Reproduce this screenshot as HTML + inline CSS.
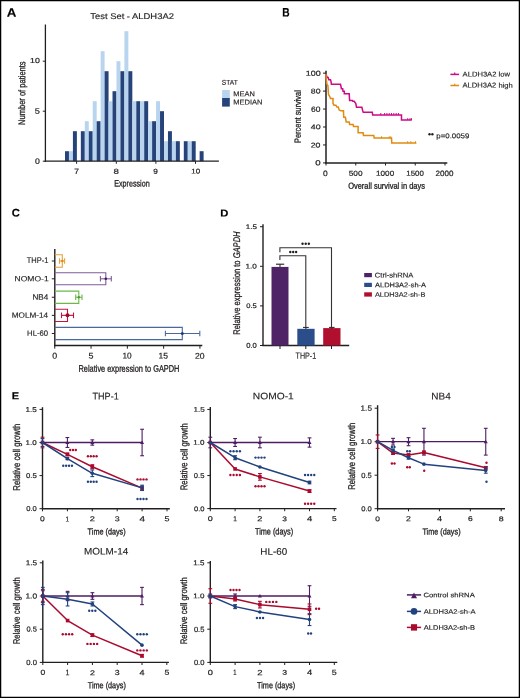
<!DOCTYPE html><html><head><meta charset="utf-8"><style>html,body{margin:0;padding:0;background:#fff;width:520px;height:698px;overflow:hidden}svg{display:block;will-change:transform}text{font-family:"Liberation Sans",sans-serif;text-rendering:geometricPrecision}</style></head><body>
<svg width="520" height="698" viewBox="0 0 520 698">
<rect x="0" y="0" width="520" height="698" fill="#fff"/>
<g id="shapes">
<rect x="65.00" y="151.20" width="3.96" height="10.00" fill="#26437a"/>
<rect x="68.96" y="151.20" width="3.96" height="10.00" fill="#b9d4ef"/>
<rect x="72.92" y="131.20" width="3.96" height="30.00" fill="#26437a"/>
<rect x="80.84" y="131.20" width="3.96" height="30.00" fill="#26437a"/>
<rect x="84.80" y="121.20" width="3.96" height="40.00" fill="#b9d4ef"/>
<rect x="88.76" y="131.20" width="3.96" height="30.00" fill="#26437a"/>
<rect x="92.72" y="101.20" width="3.96" height="60.00" fill="#b9d4ef"/>
<rect x="96.68" y="121.20" width="3.96" height="40.00" fill="#26437a"/>
<rect x="100.64" y="51.20" width="3.96" height="110.00" fill="#b9d4ef"/>
<rect x="104.60" y="71.20" width="3.96" height="90.00" fill="#26437a"/>
<rect x="108.56" y="101.20" width="3.96" height="60.00" fill="#b9d4ef"/>
<rect x="112.52" y="91.20" width="3.96" height="70.00" fill="#26437a"/>
<rect x="116.48" y="61.20" width="3.96" height="100.00" fill="#b9d4ef"/>
<rect x="120.44" y="71.20" width="3.96" height="90.00" fill="#26437a"/>
<rect x="124.40" y="31.20" width="3.96" height="130.00" fill="#b9d4ef"/>
<rect x="128.36" y="71.20" width="3.96" height="90.00" fill="#26437a"/>
<rect x="132.32" y="101.20" width="3.96" height="60.00" fill="#b9d4ef"/>
<rect x="136.28" y="101.20" width="3.96" height="60.00" fill="#26437a"/>
<rect x="140.24" y="101.20" width="3.96" height="60.00" fill="#b9d4ef"/>
<rect x="144.20" y="101.20" width="3.96" height="60.00" fill="#26437a"/>
<rect x="148.16" y="121.20" width="3.96" height="40.00" fill="#b9d4ef"/>
<rect x="152.12" y="121.20" width="3.96" height="40.00" fill="#26437a"/>
<rect x="156.08" y="101.20" width="3.96" height="60.00" fill="#b9d4ef"/>
<rect x="160.04" y="111.20" width="3.96" height="50.00" fill="#26437a"/>
<rect x="164.00" y="141.20" width="3.96" height="20.00" fill="#b9d4ef"/>
<rect x="167.96" y="131.20" width="3.96" height="30.00" fill="#26437a"/>
<rect x="171.92" y="141.20" width="3.96" height="20.00" fill="#b9d4ef"/>
<rect x="175.88" y="141.20" width="3.96" height="20.00" fill="#26437a"/>
<rect x="183.80" y="141.20" width="3.96" height="20.00" fill="#26437a"/>
<rect x="187.76" y="141.20" width="3.96" height="20.00" fill="#b9d4ef"/>
<rect x="191.72" y="141.20" width="3.96" height="20.00" fill="#26437a"/>
<rect x="199.64" y="151.20" width="3.96" height="10.00" fill="#26437a"/>
<line x1="45.40" y1="24.50" x2="45.40" y2="161.80" stroke="#231f20" stroke-width="1.3" />
<line x1="44.80" y1="161.20" x2="218.90" y2="161.20" stroke="#231f20" stroke-width="1.3" />
<line x1="42.80" y1="161.20" x2="45.40" y2="161.20" stroke="#231f20" stroke-width="1" />
<line x1="42.80" y1="111.20" x2="45.40" y2="111.20" stroke="#231f20" stroke-width="1" />
<line x1="42.80" y1="61.20" x2="45.40" y2="61.20" stroke="#231f20" stroke-width="1" />
<line x1="76.60" y1="161.20" x2="76.60" y2="163.80" stroke="#231f20" stroke-width="1" />
<line x1="116.30" y1="161.20" x2="116.30" y2="163.80" stroke="#231f20" stroke-width="1" />
<line x1="155.90" y1="161.20" x2="155.90" y2="163.80" stroke="#231f20" stroke-width="1" />
<line x1="195.50" y1="161.20" x2="195.50" y2="163.80" stroke="#231f20" stroke-width="1" />
<rect x="222.10" y="90.00" width="7.70" height="8.00" fill="#b9d4ef"/>
<rect x="222.10" y="98.00" width="7.70" height="8.60" fill="#26437a"/>
<line x1="326.00" y1="70.70" x2="326.00" y2="163.60" stroke="#231f20" stroke-width="1.5" />
<line x1="325.30" y1="162.90" x2="447.30" y2="162.90" stroke="#231f20" stroke-width="1.5" />
<line x1="323.00" y1="162.90" x2="326.00" y2="162.90" stroke="#231f20" stroke-width="1" />
<line x1="323.00" y1="144.95" x2="326.00" y2="144.95" stroke="#231f20" stroke-width="1" />
<line x1="323.00" y1="127.00" x2="326.00" y2="127.00" stroke="#231f20" stroke-width="1" />
<line x1="323.00" y1="109.05" x2="326.00" y2="109.05" stroke="#231f20" stroke-width="1" />
<line x1="323.00" y1="91.10" x2="326.00" y2="91.10" stroke="#231f20" stroke-width="1" />
<line x1="323.00" y1="73.15" x2="326.00" y2="73.15" stroke="#231f20" stroke-width="1" />
<line x1="326.00" y1="162.90" x2="326.00" y2="165.50" stroke="#231f20" stroke-width="1" />
<line x1="355.75" y1="162.90" x2="355.75" y2="165.50" stroke="#231f20" stroke-width="1" />
<line x1="385.50" y1="162.90" x2="385.50" y2="165.50" stroke="#231f20" stroke-width="1" />
<line x1="415.25" y1="162.90" x2="415.25" y2="165.50" stroke="#231f20" stroke-width="1" />
<line x1="445.00" y1="162.90" x2="445.00" y2="165.50" stroke="#231f20" stroke-width="1" />
<path d="M325.90,73.90 L327.20,77.40 L328.20,77.40 L328.80,79.70 L330.50,79.70 L331.10,81.90 L331.40,84.20 L340.50,84.20 L341.00,86.50 L341.40,88.70 L342.70,88.70 L343.00,91.30 L344.30,91.30 L344.30,93.70 L349.20,93.70 L349.60,100.40 L352.30,100.40 L352.80,101.20 L354.20,101.20 L355.80,103.50 L356.50,107.30 L361.90,107.30 L362.40,109.60 L363.10,111.90 L363.30,112.30 L372.30,112.30 L372.70,115.00 L401.50,115.00 L401.50,120.00 L411.80,120.00" stroke="#cc0a84" stroke-width="1.5" fill="none" />
<path d="M325.90,73.90 L326.30,79.70 L326.90,84.20 L327.90,85.50 L328.50,94.50 L329.80,96.50 L330.50,98.40 L333.00,98.40 L333.00,103.50 L334.00,105.20 L335.90,105.20 L336.90,107.10 L338.20,107.10 L339.20,110.00 L340.80,110.80 L343.50,110.80 L343.50,112.30 L343.80,117.30 L345.40,117.30 L346.20,121.90 L349.20,121.90 L349.60,124.60 L353.10,124.60 L353.50,126.50 L358.10,126.50 L358.10,132.70 L363.10,132.70 L363.50,135.40 L373.80,135.40 L374.20,138.10 L391.50,138.10 L391.80,143.10 L416.40,143.10" stroke="#e08a10" stroke-width="1.5" fill="none" />
<line x1="380.80" y1="114.90" x2="380.80" y2="113.00" stroke="#cc0a84" stroke-width="1" />
<line x1="384.60" y1="114.90" x2="384.60" y2="113.00" stroke="#cc0a84" stroke-width="1" />
<line x1="386.90" y1="114.90" x2="386.90" y2="113.00" stroke="#cc0a84" stroke-width="1" />
<line x1="389.20" y1="114.90" x2="389.20" y2="113.00" stroke="#cc0a84" stroke-width="1" />
<line x1="391.50" y1="114.90" x2="391.50" y2="113.00" stroke="#cc0a84" stroke-width="1" />
<line x1="393.80" y1="114.90" x2="393.80" y2="113.00" stroke="#cc0a84" stroke-width="1" />
<line x1="396.20" y1="114.90" x2="396.20" y2="113.00" stroke="#cc0a84" stroke-width="1" />
<line x1="398.40" y1="114.90" x2="398.40" y2="113.00" stroke="#cc0a84" stroke-width="1" />
<line x1="407.70" y1="120.00" x2="407.70" y2="118.20" stroke="#cc0a84" stroke-width="1" />
<line x1="410.00" y1="120.00" x2="410.00" y2="118.20" stroke="#cc0a84" stroke-width="1" />
<line x1="411.50" y1="120.00" x2="411.50" y2="118.20" stroke="#cc0a84" stroke-width="1" />
<line x1="381.50" y1="138.20" x2="381.50" y2="136.30" stroke="#e08a10" stroke-width="1" />
<line x1="389.20" y1="138.20" x2="389.20" y2="136.30" stroke="#e08a10" stroke-width="1" />
<line x1="390.80" y1="138.20" x2="390.80" y2="136.30" stroke="#e08a10" stroke-width="1" />
<line x1="407.70" y1="143.10" x2="407.70" y2="141.20" stroke="#e08a10" stroke-width="1" />
<line x1="410.80" y1="143.10" x2="410.80" y2="141.20" stroke="#e08a10" stroke-width="1" />
<line x1="415.40" y1="143.10" x2="415.40" y2="141.20" stroke="#e08a10" stroke-width="1" />
<line x1="450.40" y1="74.40" x2="459.10" y2="74.40" stroke="#cc0a84" stroke-width="1.5" />
<line x1="454.70" y1="74.40" x2="454.70" y2="72.60" stroke="#cc0a84" stroke-width="1.2" />
<line x1="450.40" y1="85.50" x2="459.10" y2="85.50" stroke="#e08a10" stroke-width="1.5" />
<line x1="454.70" y1="85.50" x2="454.70" y2="83.70" stroke="#e08a10" stroke-width="1.2" />
<circle cx="429.53" cy="134.20" r="1.2" fill="#231f20"/>
<circle cx="432.38" cy="134.20" r="1.2" fill="#231f20"/>
<line x1="54.80" y1="249.00" x2="54.80" y2="346.20" stroke="#231f20" stroke-width="1.4" />
<line x1="54.10" y1="345.50" x2="202.30" y2="345.50" stroke="#231f20" stroke-width="1.4" />
<line x1="54.75" y1="345.50" x2="54.75" y2="348.70" stroke="#231f20" stroke-width="1" />
<line x1="91.05" y1="345.50" x2="91.05" y2="348.70" stroke="#231f20" stroke-width="1" />
<line x1="127.35" y1="345.50" x2="127.35" y2="348.70" stroke="#231f20" stroke-width="1" />
<line x1="163.65" y1="345.50" x2="163.65" y2="348.70" stroke="#231f20" stroke-width="1" />
<line x1="199.95" y1="345.50" x2="199.95" y2="348.70" stroke="#231f20" stroke-width="1" />
<path d="M54.8,254.70 H62.30 V267.30 H54.8" stroke="#e8a03a" stroke-width="1.1" fill="none" />
<line x1="59.50" y1="261.00" x2="64.60" y2="261.00" stroke="#e8a03a" stroke-width="1.1" />
<line x1="59.50" y1="258.20" x2="59.50" y2="263.80" stroke="#e8a03a" stroke-width="1.1" />
<line x1="64.60" y1="258.20" x2="64.60" y2="263.80" stroke="#e8a03a" stroke-width="1.1" />
<circle cx="62.30" cy="261.00" r="1.2" fill="#e08a10"/>
<line x1="51.80" y1="261.00" x2="54.80" y2="261.00" stroke="#231f20" stroke-width="1" />
<path d="M54.8,272.80 H105.80 V284.80 H54.8" stroke="#7f5c9c" stroke-width="1.1" fill="none" />
<line x1="100.40" y1="278.80" x2="111.30" y2="278.80" stroke="#7f5c9c" stroke-width="1.1" />
<line x1="100.40" y1="276.00" x2="100.40" y2="281.60" stroke="#7f5c9c" stroke-width="1.1" />
<line x1="111.30" y1="276.00" x2="111.30" y2="281.60" stroke="#7f5c9c" stroke-width="1.1" />
<circle cx="105.80" cy="278.80" r="1.3" fill="#3d1a5c"/>
<line x1="51.80" y1="278.80" x2="54.80" y2="278.80" stroke="#231f20" stroke-width="1" />
<path d="M54.8,291.10 H78.80 V303.40 H54.8" stroke="#6cb84a" stroke-width="1.1" fill="none" />
<line x1="75.70" y1="297.25" x2="82.00" y2="297.25" stroke="#6cb84a" stroke-width="1.1" />
<line x1="75.70" y1="294.45" x2="75.70" y2="300.05" stroke="#6cb84a" stroke-width="1.1" />
<line x1="82.00" y1="294.45" x2="82.00" y2="300.05" stroke="#6cb84a" stroke-width="1.1" />
<circle cx="78.80" cy="297.25" r="1.2" fill="#4c9a30"/>
<line x1="51.80" y1="297.25" x2="54.80" y2="297.25" stroke="#231f20" stroke-width="1" />
<path d="M54.8,309.20 H67.50 V321.50 H54.8" stroke="#c0143c" stroke-width="1.1" fill="none" />
<line x1="61.50" y1="315.35" x2="73.50" y2="315.35" stroke="#c0143c" stroke-width="1.1" />
<line x1="61.50" y1="312.55" x2="61.50" y2="318.15" stroke="#c0143c" stroke-width="1.1" />
<line x1="73.50" y1="312.55" x2="73.50" y2="318.15" stroke="#c0143c" stroke-width="1.1" />
<circle cx="67.50" cy="315.35" r="2.0" fill="#a00a2a"/>
<line x1="51.80" y1="315.35" x2="54.80" y2="315.35" stroke="#231f20" stroke-width="1" />
<path d="M54.8,327.40 H182.30 V339.60 H54.8" stroke="#4a68a0" stroke-width="1.1" fill="none" />
<line x1="165.40" y1="333.50" x2="199.80" y2="333.50" stroke="#4a68a0" stroke-width="1.1" />
<line x1="165.40" y1="330.70" x2="165.40" y2="336.30" stroke="#4a68a0" stroke-width="1.1" />
<line x1="199.80" y1="330.70" x2="199.80" y2="336.30" stroke="#4a68a0" stroke-width="1.1" />
<circle cx="182.30" cy="333.50" r="1.5" fill="#1f3d7a"/>
<line x1="51.80" y1="333.50" x2="54.80" y2="333.50" stroke="#231f20" stroke-width="1" />
<line x1="263.00" y1="224.30" x2="263.00" y2="346.10" stroke="#231f20" stroke-width="1.4" />
<line x1="262.30" y1="345.50" x2="349.20" y2="345.50" stroke="#231f20" stroke-width="1.4" />
<line x1="260.00" y1="345.50" x2="263.00" y2="345.50" stroke="#231f20" stroke-width="1" />
<line x1="260.00" y1="305.90" x2="263.00" y2="305.90" stroke="#231f20" stroke-width="1" />
<line x1="260.00" y1="266.30" x2="263.00" y2="266.30" stroke="#231f20" stroke-width="1" />
<line x1="260.00" y1="226.70" x2="263.00" y2="226.70" stroke="#231f20" stroke-width="1" />
<line x1="280.00" y1="345.50" x2="280.00" y2="349.00" stroke="#231f20" stroke-width="1" />
<line x1="305.80" y1="345.50" x2="305.80" y2="349.00" stroke="#231f20" stroke-width="1" />
<line x1="331.50" y1="345.50" x2="331.50" y2="349.00" stroke="#231f20" stroke-width="1" />
<rect x="271.50" y="266.90" width="17.00" height="78.60" fill="#4f2466"/>
<rect x="297.30" y="328.80" width="17.30" height="16.70" fill="#2b4d8a"/>
<rect x="323.20" y="328.10" width="17.30" height="17.40" fill="#b0102e"/>
<line x1="280.00" y1="264.20" x2="280.00" y2="267.00" stroke="#231f20" stroke-width="1" />
<line x1="276.00" y1="264.20" x2="284.20" y2="264.20" stroke="#231f20" stroke-width="1.1" />
<line x1="305.90" y1="327.40" x2="305.90" y2="329.00" stroke="#231f20" stroke-width="1" />
<line x1="303.00" y1="327.40" x2="308.80" y2="327.40" stroke="#231f20" stroke-width="1" />
<line x1="331.80" y1="327.40" x2="331.80" y2="329.00" stroke="#231f20" stroke-width="1" />
<line x1="329.00" y1="327.40" x2="334.60" y2="327.40" stroke="#231f20" stroke-width="1" />
<path d="M279.9,252.3 V247.7 H331.5 V327.4" stroke="#333" stroke-width="1.1" fill="none" />
<path d="M279.9,260.0 V255.8 H305.8 V327.0" stroke="#333" stroke-width="1.1" fill="none" />
<circle cx="302.57" cy="243.80" r="1.2" fill="#231f20"/>
<circle cx="305.70" cy="243.80" r="1.2" fill="#231f20"/>
<circle cx="308.83" cy="243.80" r="1.2" fill="#231f20"/>
<circle cx="290.27" cy="252.00" r="1.2" fill="#231f20"/>
<circle cx="293.20" cy="252.00" r="1.2" fill="#231f20"/>
<circle cx="296.13" cy="252.00" r="1.2" fill="#231f20"/>
<rect x="364.20" y="273.00" width="7.70" height="4.20" fill="#4f2466"/>
<rect x="364.20" y="282.80" width="7.70" height="4.20" fill="#2b4d8a"/>
<rect x="364.20" y="292.30" width="7.70" height="4.30" fill="#b0102e"/>
<line x1="42.50" y1="407.20" x2="42.50" y2="509.30" stroke="#231f20" stroke-width="1.4" />
<line x1="41.90" y1="508.70" x2="169.80" y2="508.70" stroke="#231f20" stroke-width="1.4" />
<line x1="39.50" y1="508.70" x2="42.50" y2="508.70" stroke="#231f20" stroke-width="1" />
<line x1="39.50" y1="475.60" x2="42.50" y2="475.60" stroke="#231f20" stroke-width="1" />
<line x1="39.50" y1="442.50" x2="42.50" y2="442.50" stroke="#231f20" stroke-width="1" />
<line x1="39.50" y1="409.40" x2="42.50" y2="409.40" stroke="#231f20" stroke-width="1" />
<line x1="42.50" y1="508.70" x2="42.50" y2="511.30" stroke="#231f20" stroke-width="1" />
<line x1="67.40" y1="508.70" x2="67.40" y2="511.30" stroke="#231f20" stroke-width="1" />
<line x1="92.30" y1="508.70" x2="92.30" y2="511.30" stroke="#231f20" stroke-width="1" />
<line x1="117.20" y1="508.70" x2="117.20" y2="511.30" stroke="#231f20" stroke-width="1" />
<line x1="142.10" y1="508.70" x2="142.10" y2="511.30" stroke="#231f20" stroke-width="1" />
<line x1="167.00" y1="508.70" x2="167.00" y2="511.30" stroke="#231f20" stroke-width="1" />
<line x1="67.40" y1="437.53" x2="67.40" y2="447.46" stroke="#4d1d63" stroke-width="1.1" />
<line x1="65.50" y1="437.53" x2="69.30" y2="437.53" stroke="#4d1d63" stroke-width="1.1" />
<line x1="65.50" y1="447.46" x2="69.30" y2="447.46" stroke="#4d1d63" stroke-width="1.1" />
<line x1="92.30" y1="439.85" x2="92.30" y2="445.15" stroke="#4d1d63" stroke-width="1.1" />
<line x1="90.40" y1="439.85" x2="94.20" y2="439.85" stroke="#4d1d63" stroke-width="1.1" />
<line x1="90.40" y1="445.15" x2="94.20" y2="445.15" stroke="#4d1d63" stroke-width="1.1" />
<line x1="142.10" y1="429.26" x2="142.10" y2="455.74" stroke="#4d1d63" stroke-width="1.1" />
<line x1="140.20" y1="429.26" x2="144.00" y2="429.26" stroke="#4d1d63" stroke-width="1.1" />
<line x1="140.20" y1="455.74" x2="144.00" y2="455.74" stroke="#4d1d63" stroke-width="1.1" />
<path d="M42.50,442.50 L67.40,442.50 L92.30,442.50 L142.10,442.50" stroke="#4d1d63" stroke-width="1.3" fill="none" stroke-linejoin="round"/>
<path d="M40.50,444.10 L44.50,444.10 L42.50,440.60Z" fill="#4d1d63"/>
<path d="M65.40,444.10 L69.40,444.10 L67.40,440.60Z" fill="#4d1d63"/>
<path d="M90.30,444.10 L94.30,444.10 L92.30,440.60Z" fill="#4d1d63"/>
<path d="M140.10,444.10 L144.10,444.10 L142.10,440.60Z" fill="#4d1d63"/>
<line x1="42.50" y1="437.20" x2="42.50" y2="447.80" stroke="#ab0a2e" stroke-width="1.1" />
<line x1="40.60" y1="437.20" x2="44.40" y2="437.20" stroke="#ab0a2e" stroke-width="1.1" />
<line x1="40.60" y1="447.80" x2="44.40" y2="447.80" stroke="#ab0a2e" stroke-width="1.1" />
<line x1="67.40" y1="453.09" x2="67.40" y2="455.74" stroke="#ab0a2e" stroke-width="1.1" />
<line x1="65.50" y1="453.09" x2="69.30" y2="453.09" stroke="#ab0a2e" stroke-width="1.1" />
<line x1="65.50" y1="455.74" x2="69.30" y2="455.74" stroke="#ab0a2e" stroke-width="1.1" />
<line x1="92.30" y1="464.74" x2="92.30" y2="468.72" stroke="#ab0a2e" stroke-width="1.1" />
<line x1="90.40" y1="464.74" x2="94.20" y2="464.74" stroke="#ab0a2e" stroke-width="1.1" />
<line x1="90.40" y1="468.72" x2="94.20" y2="468.72" stroke="#ab0a2e" stroke-width="1.1" />
<line x1="142.10" y1="486.19" x2="142.10" y2="490.16" stroke="#ab0a2e" stroke-width="1.1" />
<line x1="140.20" y1="486.19" x2="144.00" y2="486.19" stroke="#ab0a2e" stroke-width="1.1" />
<line x1="140.20" y1="490.16" x2="144.00" y2="490.16" stroke="#ab0a2e" stroke-width="1.1" />
<path d="M42.50,442.50 L67.40,454.42 L92.30,466.73 L142.10,488.18" stroke="#ab0a2e" stroke-width="1.5" fill="none" stroke-linejoin="round"/>
<rect x="40.70" y="440.70" width="3.60" height="3.60" fill="#ab0a2e"/>
<rect x="65.60" y="452.62" width="3.60" height="3.60" fill="#ab0a2e"/>
<rect x="90.50" y="464.93" width="3.60" height="3.60" fill="#ab0a2e"/>
<rect x="140.30" y="486.38" width="3.60" height="3.60" fill="#ab0a2e"/>
<line x1="42.50" y1="438.53" x2="42.50" y2="446.47" stroke="#22427e" stroke-width="1.1" />
<line x1="40.60" y1="438.53" x2="44.40" y2="438.53" stroke="#22427e" stroke-width="1.1" />
<line x1="40.60" y1="446.47" x2="44.40" y2="446.47" stroke="#22427e" stroke-width="1.1" />
<line x1="67.40" y1="457.66" x2="67.40" y2="459.65" stroke="#22427e" stroke-width="1.1" />
<line x1="65.50" y1="457.66" x2="69.30" y2="457.66" stroke="#22427e" stroke-width="1.1" />
<line x1="65.50" y1="459.65" x2="69.30" y2="459.65" stroke="#22427e" stroke-width="1.1" />
<line x1="92.30" y1="469.97" x2="92.30" y2="476.59" stroke="#22427e" stroke-width="1.1" />
<line x1="90.40" y1="469.97" x2="94.20" y2="469.97" stroke="#22427e" stroke-width="1.1" />
<line x1="90.40" y1="476.59" x2="94.20" y2="476.59" stroke="#22427e" stroke-width="1.1" />
<line x1="142.10" y1="485.20" x2="142.10" y2="490.50" stroke="#22427e" stroke-width="1.1" />
<line x1="140.20" y1="485.20" x2="144.00" y2="485.20" stroke="#22427e" stroke-width="1.1" />
<line x1="140.20" y1="490.50" x2="144.00" y2="490.50" stroke="#22427e" stroke-width="1.1" />
<path d="M42.50,442.50 L67.40,458.65 L92.30,473.28 L142.10,487.85" stroke="#22427e" stroke-width="1.5" fill="none" stroke-linejoin="round"/>
<circle cx="42.50" cy="442.50" r="1.8" fill="#22427e"/>
<circle cx="67.40" cy="458.65" r="1.8" fill="#22427e"/>
<circle cx="92.30" cy="473.28" r="1.8" fill="#22427e"/>
<circle cx="142.10" cy="487.85" r="1.8" fill="#22427e"/>
<circle cx="70.20" cy="450.00" r="1.2" fill="#ab0a2e"/>
<circle cx="73.00" cy="450.00" r="1.2" fill="#ab0a2e"/>
<circle cx="75.80" cy="450.00" r="1.2" fill="#ab0a2e"/>
<circle cx="87.94" cy="456.20" r="1.2" fill="#ab0a2e"/>
<circle cx="90.81" cy="456.20" r="1.2" fill="#ab0a2e"/>
<circle cx="93.69" cy="456.20" r="1.2" fill="#ab0a2e"/>
<circle cx="96.56" cy="456.20" r="1.2" fill="#ab0a2e"/>
<circle cx="63.25" cy="465.70" r="1.2" fill="#22427e"/>
<circle cx="66.15" cy="465.70" r="1.2" fill="#22427e"/>
<circle cx="69.05" cy="465.70" r="1.2" fill="#22427e"/>
<circle cx="71.95" cy="465.70" r="1.2" fill="#22427e"/>
<circle cx="87.94" cy="481.80" r="1.2" fill="#22427e"/>
<circle cx="90.81" cy="481.80" r="1.2" fill="#22427e"/>
<circle cx="93.69" cy="481.80" r="1.2" fill="#22427e"/>
<circle cx="96.56" cy="481.80" r="1.2" fill="#22427e"/>
<circle cx="137.50" cy="479.40" r="1.2" fill="#ab0a2e"/>
<circle cx="140.50" cy="479.40" r="1.2" fill="#ab0a2e"/>
<circle cx="143.50" cy="479.40" r="1.2" fill="#ab0a2e"/>
<circle cx="146.50" cy="479.40" r="1.2" fill="#ab0a2e"/>
<circle cx="137.50" cy="499.00" r="1.2" fill="#22427e"/>
<circle cx="140.50" cy="499.00" r="1.2" fill="#22427e"/>
<circle cx="143.50" cy="499.00" r="1.2" fill="#22427e"/>
<circle cx="146.50" cy="499.00" r="1.2" fill="#22427e"/>
<line x1="210.30" y1="407.00" x2="210.30" y2="509.20" stroke="#231f20" stroke-width="1.4" />
<line x1="209.70" y1="508.60" x2="336.50" y2="508.60" stroke="#231f20" stroke-width="1.4" />
<line x1="207.30" y1="508.60" x2="210.30" y2="508.60" stroke="#231f20" stroke-width="1" />
<line x1="207.30" y1="475.55" x2="210.30" y2="475.55" stroke="#231f20" stroke-width="1" />
<line x1="207.30" y1="442.50" x2="210.30" y2="442.50" stroke="#231f20" stroke-width="1" />
<line x1="207.30" y1="409.45" x2="210.30" y2="409.45" stroke="#231f20" stroke-width="1" />
<line x1="210.30" y1="508.60" x2="210.30" y2="511.20" stroke="#231f20" stroke-width="1" />
<line x1="235.10" y1="508.60" x2="235.10" y2="511.20" stroke="#231f20" stroke-width="1" />
<line x1="259.90" y1="508.60" x2="259.90" y2="511.20" stroke="#231f20" stroke-width="1" />
<line x1="284.70" y1="508.60" x2="284.70" y2="511.20" stroke="#231f20" stroke-width="1" />
<line x1="309.50" y1="508.60" x2="309.50" y2="511.20" stroke="#231f20" stroke-width="1" />
<line x1="334.30" y1="508.60" x2="334.30" y2="511.20" stroke="#231f20" stroke-width="1" />
<line x1="210.30" y1="437.21" x2="210.30" y2="447.79" stroke="#4d1d63" stroke-width="1.1" />
<line x1="208.40" y1="437.21" x2="212.20" y2="437.21" stroke="#4d1d63" stroke-width="1.1" />
<line x1="208.40" y1="447.79" x2="212.20" y2="447.79" stroke="#4d1d63" stroke-width="1.1" />
<line x1="235.10" y1="438.53" x2="235.10" y2="446.47" stroke="#4d1d63" stroke-width="1.1" />
<line x1="233.20" y1="438.53" x2="237.00" y2="438.53" stroke="#4d1d63" stroke-width="1.1" />
<line x1="233.20" y1="446.47" x2="237.00" y2="446.47" stroke="#4d1d63" stroke-width="1.1" />
<line x1="259.90" y1="437.21" x2="259.90" y2="447.79" stroke="#4d1d63" stroke-width="1.1" />
<line x1="258.00" y1="437.21" x2="261.80" y2="437.21" stroke="#4d1d63" stroke-width="1.1" />
<line x1="258.00" y1="447.79" x2="261.80" y2="447.79" stroke="#4d1d63" stroke-width="1.1" />
<line x1="309.50" y1="437.87" x2="309.50" y2="447.13" stroke="#4d1d63" stroke-width="1.1" />
<line x1="307.60" y1="437.87" x2="311.40" y2="437.87" stroke="#4d1d63" stroke-width="1.1" />
<line x1="307.60" y1="447.13" x2="311.40" y2="447.13" stroke="#4d1d63" stroke-width="1.1" />
<path d="M210.30,442.50 L235.10,442.50 L259.90,442.50 L309.50,442.50" stroke="#4d1d63" stroke-width="1.3" fill="none" stroke-linejoin="round"/>
<path d="M208.30,444.10 L212.30,444.10 L210.30,440.60Z" fill="#4d1d63"/>
<path d="M233.10,444.10 L237.10,444.10 L235.10,440.60Z" fill="#4d1d63"/>
<path d="M257.90,444.10 L261.90,444.10 L259.90,440.60Z" fill="#4d1d63"/>
<path d="M307.50,444.10 L311.50,444.10 L309.50,440.60Z" fill="#4d1d63"/>
<line x1="259.90" y1="473.57" x2="259.90" y2="480.18" stroke="#ab0a2e" stroke-width="1.1" />
<line x1="258.00" y1="473.57" x2="261.80" y2="473.57" stroke="#ab0a2e" stroke-width="1.1" />
<line x1="258.00" y1="480.18" x2="261.80" y2="480.18" stroke="#ab0a2e" stroke-width="1.1" />
<line x1="309.50" y1="489.76" x2="309.50" y2="492.41" stroke="#ab0a2e" stroke-width="1.1" />
<line x1="307.60" y1="489.76" x2="311.40" y2="489.76" stroke="#ab0a2e" stroke-width="1.1" />
<line x1="307.60" y1="492.41" x2="311.40" y2="492.41" stroke="#ab0a2e" stroke-width="1.1" />
<path d="M210.30,442.50 L235.10,468.94 L259.90,476.87 L309.50,491.08" stroke="#ab0a2e" stroke-width="1.5" fill="none" stroke-linejoin="round"/>
<rect x="208.50" y="440.70" width="3.60" height="3.60" fill="#ab0a2e"/>
<rect x="233.30" y="467.14" width="3.60" height="3.60" fill="#ab0a2e"/>
<rect x="258.10" y="475.07" width="3.60" height="3.60" fill="#ab0a2e"/>
<rect x="307.70" y="489.28" width="3.60" height="3.60" fill="#ab0a2e"/>
<line x1="235.10" y1="455.72" x2="235.10" y2="459.69" stroke="#22427e" stroke-width="1.1" />
<line x1="233.20" y1="455.72" x2="237.00" y2="455.72" stroke="#22427e" stroke-width="1.1" />
<line x1="233.20" y1="459.69" x2="237.00" y2="459.69" stroke="#22427e" stroke-width="1.1" />
<line x1="309.50" y1="481.17" x2="309.50" y2="483.81" stroke="#22427e" stroke-width="1.1" />
<line x1="307.60" y1="481.17" x2="311.40" y2="481.17" stroke="#22427e" stroke-width="1.1" />
<line x1="307.60" y1="483.81" x2="311.40" y2="483.81" stroke="#22427e" stroke-width="1.1" />
<path d="M210.30,442.50 L235.10,457.70 L259.90,466.96 L309.50,482.49" stroke="#22427e" stroke-width="1.5" fill="none" stroke-linejoin="round"/>
<circle cx="210.30" cy="442.50" r="1.8" fill="#22427e"/>
<circle cx="235.10" cy="457.70" r="1.8" fill="#22427e"/>
<circle cx="259.90" cy="466.96" r="1.8" fill="#22427e"/>
<circle cx="309.50" cy="482.49" r="1.8" fill="#22427e"/>
<circle cx="230.39" cy="451.20" r="1.2" fill="#22427e"/>
<circle cx="233.56" cy="451.20" r="1.2" fill="#22427e"/>
<circle cx="236.74" cy="451.20" r="1.2" fill="#22427e"/>
<circle cx="239.91" cy="451.20" r="1.2" fill="#22427e"/>
<circle cx="255.50" cy="457.60" r="1.2" fill="#22427e"/>
<circle cx="258.50" cy="457.60" r="1.2" fill="#22427e"/>
<circle cx="261.50" cy="457.60" r="1.2" fill="#22427e"/>
<circle cx="264.50" cy="457.60" r="1.2" fill="#22427e"/>
<circle cx="305.04" cy="475.00" r="1.2" fill="#22427e"/>
<circle cx="308.11" cy="475.00" r="1.2" fill="#22427e"/>
<circle cx="311.19" cy="475.00" r="1.2" fill="#22427e"/>
<circle cx="314.26" cy="475.00" r="1.2" fill="#22427e"/>
<circle cx="230.39" cy="475.00" r="1.2" fill="#ab0a2e"/>
<circle cx="233.56" cy="475.00" r="1.2" fill="#ab0a2e"/>
<circle cx="236.74" cy="475.00" r="1.2" fill="#ab0a2e"/>
<circle cx="239.91" cy="475.00" r="1.2" fill="#ab0a2e"/>
<circle cx="255.50" cy="486.20" r="1.2" fill="#ab0a2e"/>
<circle cx="258.50" cy="486.20" r="1.2" fill="#ab0a2e"/>
<circle cx="261.50" cy="486.20" r="1.2" fill="#ab0a2e"/>
<circle cx="264.50" cy="486.20" r="1.2" fill="#ab0a2e"/>
<circle cx="305.04" cy="503.80" r="1.2" fill="#ab0a2e"/>
<circle cx="308.11" cy="503.80" r="1.2" fill="#ab0a2e"/>
<circle cx="311.19" cy="503.80" r="1.2" fill="#ab0a2e"/>
<circle cx="314.26" cy="503.80" r="1.2" fill="#ab0a2e"/>
<line x1="377.60" y1="405.20" x2="377.60" y2="509.30" stroke="#231f20" stroke-width="1.4" />
<line x1="377.00" y1="508.70" x2="505.00" y2="508.70" stroke="#231f20" stroke-width="1.4" />
<line x1="374.60" y1="508.70" x2="377.60" y2="508.70" stroke="#231f20" stroke-width="1" />
<line x1="374.60" y1="475.20" x2="377.60" y2="475.20" stroke="#231f20" stroke-width="1" />
<line x1="374.60" y1="441.70" x2="377.60" y2="441.70" stroke="#231f20" stroke-width="1" />
<line x1="374.60" y1="408.20" x2="377.60" y2="408.20" stroke="#231f20" stroke-width="1" />
<line x1="377.60" y1="508.70" x2="377.60" y2="511.30" stroke="#231f20" stroke-width="1" />
<line x1="408.50" y1="508.70" x2="408.50" y2="511.30" stroke="#231f20" stroke-width="1" />
<line x1="439.40" y1="508.70" x2="439.40" y2="511.30" stroke="#231f20" stroke-width="1" />
<line x1="470.30" y1="508.70" x2="470.30" y2="511.30" stroke="#231f20" stroke-width="1" />
<line x1="501.20" y1="508.70" x2="501.20" y2="511.30" stroke="#231f20" stroke-width="1" />
<line x1="393.05" y1="438.35" x2="393.05" y2="445.05" stroke="#4d1d63" stroke-width="1.1" />
<line x1="391.15" y1="438.35" x2="394.95" y2="438.35" stroke="#4d1d63" stroke-width="1.1" />
<line x1="391.15" y1="445.05" x2="394.95" y2="445.05" stroke="#4d1d63" stroke-width="1.1" />
<line x1="408.50" y1="437.68" x2="408.50" y2="445.72" stroke="#4d1d63" stroke-width="1.1" />
<line x1="406.60" y1="437.68" x2="410.40" y2="437.68" stroke="#4d1d63" stroke-width="1.1" />
<line x1="406.60" y1="445.72" x2="410.40" y2="445.72" stroke="#4d1d63" stroke-width="1.1" />
<line x1="423.95" y1="428.30" x2="423.95" y2="455.10" stroke="#4d1d63" stroke-width="1.1" />
<line x1="422.05" y1="428.30" x2="425.85" y2="428.30" stroke="#4d1d63" stroke-width="1.1" />
<line x1="422.05" y1="455.10" x2="425.85" y2="455.10" stroke="#4d1d63" stroke-width="1.1" />
<line x1="485.75" y1="428.30" x2="485.75" y2="455.10" stroke="#4d1d63" stroke-width="1.1" />
<line x1="483.85" y1="428.30" x2="487.65" y2="428.30" stroke="#4d1d63" stroke-width="1.1" />
<line x1="483.85" y1="455.10" x2="487.65" y2="455.10" stroke="#4d1d63" stroke-width="1.1" />
<path d="M377.60,441.70 L393.05,441.70 L408.50,441.70 L423.95,441.70 L485.75,441.70" stroke="#4d1d63" stroke-width="1.3" fill="none" stroke-linejoin="round"/>
<path d="M375.60,443.30 L379.60,443.30 L377.60,439.80Z" fill="#4d1d63"/>
<path d="M391.05,443.30 L395.05,443.30 L393.05,439.80Z" fill="#4d1d63"/>
<path d="M406.50,443.30 L410.50,443.30 L408.50,439.80Z" fill="#4d1d63"/>
<path d="M421.95,443.30 L425.95,443.30 L423.95,439.80Z" fill="#4d1d63"/>
<path d="M483.75,443.30 L487.75,443.30 L485.75,439.80Z" fill="#4d1d63"/>
<line x1="377.60" y1="435.00" x2="377.60" y2="448.40" stroke="#ab0a2e" stroke-width="1.1" />
<line x1="375.70" y1="435.00" x2="379.50" y2="435.00" stroke="#ab0a2e" stroke-width="1.1" />
<line x1="375.70" y1="448.40" x2="379.50" y2="448.40" stroke="#ab0a2e" stroke-width="1.1" />
<line x1="393.05" y1="451.75" x2="393.05" y2="454.43" stroke="#ab0a2e" stroke-width="1.1" />
<line x1="391.15" y1="451.75" x2="394.95" y2="451.75" stroke="#ab0a2e" stroke-width="1.1" />
<line x1="391.15" y1="454.43" x2="394.95" y2="454.43" stroke="#ab0a2e" stroke-width="1.1" />
<line x1="408.50" y1="453.76" x2="408.50" y2="456.44" stroke="#ab0a2e" stroke-width="1.1" />
<line x1="406.60" y1="453.76" x2="410.40" y2="453.76" stroke="#ab0a2e" stroke-width="1.1" />
<line x1="406.60" y1="456.44" x2="410.40" y2="456.44" stroke="#ab0a2e" stroke-width="1.1" />
<line x1="423.95" y1="451.08" x2="423.95" y2="453.76" stroke="#ab0a2e" stroke-width="1.1" />
<line x1="422.05" y1="451.08" x2="425.85" y2="451.08" stroke="#ab0a2e" stroke-width="1.1" />
<line x1="422.05" y1="453.76" x2="425.85" y2="453.76" stroke="#ab0a2e" stroke-width="1.1" />
<line x1="485.75" y1="466.49" x2="485.75" y2="469.17" stroke="#ab0a2e" stroke-width="1.1" />
<line x1="483.85" y1="466.49" x2="487.65" y2="466.49" stroke="#ab0a2e" stroke-width="1.1" />
<line x1="483.85" y1="469.17" x2="487.65" y2="469.17" stroke="#ab0a2e" stroke-width="1.1" />
<path d="M377.60,441.70 L393.05,453.09 L408.50,455.10 L423.95,452.42 L485.75,467.83" stroke="#ab0a2e" stroke-width="1.5" fill="none" stroke-linejoin="round"/>
<rect x="375.80" y="439.90" width="3.60" height="3.60" fill="#ab0a2e"/>
<rect x="391.25" y="451.29" width="3.60" height="3.60" fill="#ab0a2e"/>
<rect x="406.70" y="453.30" width="3.60" height="3.60" fill="#ab0a2e"/>
<rect x="422.15" y="450.62" width="3.60" height="3.60" fill="#ab0a2e"/>
<rect x="483.95" y="466.03" width="3.60" height="3.60" fill="#ab0a2e"/>
<line x1="393.05" y1="449.07" x2="393.05" y2="451.75" stroke="#22427e" stroke-width="1.1" />
<line x1="391.15" y1="449.07" x2="394.95" y2="449.07" stroke="#22427e" stroke-width="1.1" />
<line x1="391.15" y1="451.75" x2="394.95" y2="451.75" stroke="#22427e" stroke-width="1.1" />
<line x1="408.50" y1="456.44" x2="408.50" y2="459.12" stroke="#22427e" stroke-width="1.1" />
<line x1="406.60" y1="456.44" x2="410.40" y2="456.44" stroke="#22427e" stroke-width="1.1" />
<line x1="406.60" y1="459.12" x2="410.40" y2="459.12" stroke="#22427e" stroke-width="1.1" />
<line x1="485.75" y1="467.83" x2="485.75" y2="473.19" stroke="#22427e" stroke-width="1.1" />
<line x1="483.85" y1="467.83" x2="487.65" y2="467.83" stroke="#22427e" stroke-width="1.1" />
<line x1="483.85" y1="473.19" x2="487.65" y2="473.19" stroke="#22427e" stroke-width="1.1" />
<path d="M377.60,441.70 L393.05,450.41 L408.50,457.78 L423.95,464.14 L485.75,470.51" stroke="#22427e" stroke-width="1.5" fill="none" stroke-linejoin="round"/>
<circle cx="377.60" cy="441.70" r="1.8" fill="#22427e"/>
<circle cx="393.05" cy="450.41" r="1.8" fill="#22427e"/>
<circle cx="408.50" cy="457.78" r="1.8" fill="#22427e"/>
<circle cx="423.95" cy="464.14" r="1.8" fill="#22427e"/>
<circle cx="485.75" cy="470.51" r="1.8" fill="#22427e"/>
<circle cx="391.90" cy="447.00" r="1.2" fill="#22427e"/>
<circle cx="394.50" cy="447.00" r="1.2" fill="#22427e"/>
<circle cx="391.90" cy="463.50" r="1.2" fill="#ab0a2e"/>
<circle cx="394.50" cy="463.50" r="1.2" fill="#ab0a2e"/>
<circle cx="407.20" cy="451.20" r="1.2" fill="#22427e"/>
<circle cx="409.80" cy="451.20" r="1.2" fill="#22427e"/>
<circle cx="407.20" cy="467.30" r="1.2" fill="#ab0a2e"/>
<circle cx="409.80" cy="467.30" r="1.2" fill="#ab0a2e"/>
<circle cx="424.20" cy="470.80" r="1.2" fill="#ab0a2e"/>
<circle cx="486.50" cy="462.70" r="1.2" fill="#ab0a2e"/>
<circle cx="486.50" cy="481.80" r="1.2" fill="#22427e"/>
<line x1="42.80" y1="560.50" x2="42.80" y2="663.00" stroke="#231f20" stroke-width="1.4" />
<line x1="42.20" y1="662.40" x2="168.90" y2="662.40" stroke="#231f20" stroke-width="1.4" />
<line x1="39.80" y1="662.40" x2="42.80" y2="662.40" stroke="#231f20" stroke-width="1" />
<line x1="39.80" y1="629.20" x2="42.80" y2="629.20" stroke="#231f20" stroke-width="1" />
<line x1="39.80" y1="596.00" x2="42.80" y2="596.00" stroke="#231f20" stroke-width="1" />
<line x1="39.80" y1="562.80" x2="42.80" y2="562.80" stroke="#231f20" stroke-width="1" />
<line x1="42.80" y1="662.40" x2="42.80" y2="665.00" stroke="#231f20" stroke-width="1" />
<line x1="67.60" y1="662.40" x2="67.60" y2="665.00" stroke="#231f20" stroke-width="1" />
<line x1="92.40" y1="662.40" x2="92.40" y2="665.00" stroke="#231f20" stroke-width="1" />
<line x1="117.20" y1="662.40" x2="117.20" y2="665.00" stroke="#231f20" stroke-width="1" />
<line x1="142.00" y1="662.40" x2="142.00" y2="665.00" stroke="#231f20" stroke-width="1" />
<line x1="166.80" y1="662.40" x2="166.80" y2="665.00" stroke="#231f20" stroke-width="1" />
<line x1="42.80" y1="589.36" x2="42.80" y2="602.64" stroke="#4d1d63" stroke-width="1.1" />
<line x1="40.90" y1="589.36" x2="44.70" y2="589.36" stroke="#4d1d63" stroke-width="1.1" />
<line x1="40.90" y1="602.64" x2="44.70" y2="602.64" stroke="#4d1d63" stroke-width="1.1" />
<line x1="67.60" y1="591.35" x2="67.60" y2="600.65" stroke="#4d1d63" stroke-width="1.1" />
<line x1="65.70" y1="591.35" x2="69.50" y2="591.35" stroke="#4d1d63" stroke-width="1.1" />
<line x1="65.70" y1="600.65" x2="69.50" y2="600.65" stroke="#4d1d63" stroke-width="1.1" />
<line x1="92.40" y1="592.68" x2="92.40" y2="599.32" stroke="#4d1d63" stroke-width="1.1" />
<line x1="90.50" y1="592.68" x2="94.30" y2="592.68" stroke="#4d1d63" stroke-width="1.1" />
<line x1="90.50" y1="599.32" x2="94.30" y2="599.32" stroke="#4d1d63" stroke-width="1.1" />
<line x1="142.00" y1="587.37" x2="142.00" y2="604.63" stroke="#4d1d63" stroke-width="1.1" />
<line x1="140.10" y1="587.37" x2="143.90" y2="587.37" stroke="#4d1d63" stroke-width="1.1" />
<line x1="140.10" y1="604.63" x2="143.90" y2="604.63" stroke="#4d1d63" stroke-width="1.1" />
<path d="M42.80,596.00 L67.60,596.00 L92.40,596.00 L142.00,596.00" stroke="#4d1d63" stroke-width="1.3" fill="none" stroke-linejoin="round"/>
<path d="M40.80,597.60 L44.80,597.60 L42.80,594.10Z" fill="#4d1d63"/>
<path d="M65.60,597.60 L69.60,597.60 L67.60,594.10Z" fill="#4d1d63"/>
<path d="M90.40,597.60 L94.40,597.60 L92.40,594.10Z" fill="#4d1d63"/>
<path d="M140.00,597.60 L144.00,597.60 L142.00,594.10Z" fill="#4d1d63"/>
<line x1="42.80" y1="590.69" x2="42.80" y2="601.31" stroke="#ab0a2e" stroke-width="1.1" />
<line x1="40.90" y1="590.69" x2="44.70" y2="590.69" stroke="#ab0a2e" stroke-width="1.1" />
<line x1="40.90" y1="601.31" x2="44.70" y2="601.31" stroke="#ab0a2e" stroke-width="1.1" />
<line x1="92.40" y1="633.85" x2="92.40" y2="636.50" stroke="#ab0a2e" stroke-width="1.1" />
<line x1="90.50" y1="633.85" x2="94.30" y2="633.85" stroke="#ab0a2e" stroke-width="1.1" />
<line x1="90.50" y1="636.50" x2="94.30" y2="636.50" stroke="#ab0a2e" stroke-width="1.1" />
<line x1="142.00" y1="654.43" x2="142.00" y2="657.09" stroke="#ab0a2e" stroke-width="1.1" />
<line x1="140.10" y1="654.43" x2="143.90" y2="654.43" stroke="#ab0a2e" stroke-width="1.1" />
<line x1="140.10" y1="657.09" x2="143.90" y2="657.09" stroke="#ab0a2e" stroke-width="1.1" />
<path d="M42.80,596.00 L67.60,620.57 L92.40,635.18 L142.00,655.76" stroke="#ab0a2e" stroke-width="1.5" fill="none" stroke-linejoin="round"/>
<rect x="41.00" y="594.20" width="3.60" height="3.60" fill="#ab0a2e"/>
<rect x="65.80" y="618.77" width="3.60" height="3.60" fill="#ab0a2e"/>
<rect x="90.60" y="633.38" width="3.60" height="3.60" fill="#ab0a2e"/>
<rect x="140.20" y="653.96" width="3.60" height="3.60" fill="#ab0a2e"/>
<line x1="42.80" y1="587.37" x2="42.80" y2="604.63" stroke="#22427e" stroke-width="1.1" />
<line x1="40.90" y1="587.37" x2="44.70" y2="587.37" stroke="#22427e" stroke-width="1.1" />
<line x1="40.90" y1="604.63" x2="44.70" y2="604.63" stroke="#22427e" stroke-width="1.1" />
<line x1="67.60" y1="592.68" x2="67.60" y2="605.96" stroke="#22427e" stroke-width="1.1" />
<line x1="65.70" y1="592.68" x2="69.50" y2="592.68" stroke="#22427e" stroke-width="1.1" />
<line x1="65.70" y1="605.96" x2="69.50" y2="605.96" stroke="#22427e" stroke-width="1.1" />
<line x1="92.40" y1="601.98" x2="92.40" y2="605.96" stroke="#22427e" stroke-width="1.1" />
<line x1="90.50" y1="601.98" x2="94.30" y2="601.98" stroke="#22427e" stroke-width="1.1" />
<line x1="90.50" y1="605.96" x2="94.30" y2="605.96" stroke="#22427e" stroke-width="1.1" />
<path d="M42.80,596.00 L67.60,599.32 L92.40,603.97 L142.00,645.14" stroke="#22427e" stroke-width="1.5" fill="none" stroke-linejoin="round"/>
<circle cx="42.80" cy="596.00" r="1.8" fill="#22427e"/>
<circle cx="67.60" cy="599.32" r="1.8" fill="#22427e"/>
<circle cx="92.40" cy="603.97" r="1.8" fill="#22427e"/>
<circle cx="142.00" cy="645.14" r="1.8" fill="#22427e"/>
<circle cx="89.23" cy="610.80" r="1.2" fill="#22427e"/>
<circle cx="92.30" cy="610.80" r="1.2" fill="#22427e"/>
<circle cx="95.37" cy="610.80" r="1.2" fill="#22427e"/>
<circle cx="62.78" cy="634.20" r="1.2" fill="#ab0a2e"/>
<circle cx="65.92" cy="634.20" r="1.2" fill="#ab0a2e"/>
<circle cx="69.08" cy="634.20" r="1.2" fill="#ab0a2e"/>
<circle cx="72.22" cy="634.20" r="1.2" fill="#ab0a2e"/>
<circle cx="87.42" cy="643.90" r="1.2" fill="#ab0a2e"/>
<circle cx="90.67" cy="643.90" r="1.2" fill="#ab0a2e"/>
<circle cx="93.92" cy="643.90" r="1.2" fill="#ab0a2e"/>
<circle cx="97.17" cy="643.90" r="1.2" fill="#ab0a2e"/>
<circle cx="137.29" cy="634.20" r="1.2" fill="#22427e"/>
<circle cx="140.46" cy="634.20" r="1.2" fill="#22427e"/>
<circle cx="143.64" cy="634.20" r="1.2" fill="#22427e"/>
<circle cx="146.81" cy="634.20" r="1.2" fill="#22427e"/>
<circle cx="137.29" cy="650.40" r="1.2" fill="#ab0a2e"/>
<circle cx="140.46" cy="650.40" r="1.2" fill="#ab0a2e"/>
<circle cx="143.64" cy="650.40" r="1.2" fill="#ab0a2e"/>
<circle cx="146.81" cy="650.40" r="1.2" fill="#ab0a2e"/>
<line x1="210.30" y1="561.00" x2="210.30" y2="663.00" stroke="#231f20" stroke-width="1.4" />
<line x1="209.70" y1="662.40" x2="337.30" y2="662.40" stroke="#231f20" stroke-width="1.4" />
<line x1="207.30" y1="662.40" x2="210.30" y2="662.40" stroke="#231f20" stroke-width="1" />
<line x1="207.30" y1="629.20" x2="210.30" y2="629.20" stroke="#231f20" stroke-width="1" />
<line x1="207.30" y1="596.00" x2="210.30" y2="596.00" stroke="#231f20" stroke-width="1" />
<line x1="207.30" y1="562.80" x2="210.30" y2="562.80" stroke="#231f20" stroke-width="1" />
<line x1="210.30" y1="662.40" x2="210.30" y2="665.00" stroke="#231f20" stroke-width="1" />
<line x1="235.10" y1="662.40" x2="235.10" y2="665.00" stroke="#231f20" stroke-width="1" />
<line x1="259.90" y1="662.40" x2="259.90" y2="665.00" stroke="#231f20" stroke-width="1" />
<line x1="284.70" y1="662.40" x2="284.70" y2="665.00" stroke="#231f20" stroke-width="1" />
<line x1="309.50" y1="662.40" x2="309.50" y2="665.00" stroke="#231f20" stroke-width="1" />
<line x1="334.30" y1="662.40" x2="334.30" y2="665.00" stroke="#231f20" stroke-width="1" />
<line x1="235.10" y1="594.01" x2="235.10" y2="597.99" stroke="#4d1d63" stroke-width="1.1" />
<line x1="233.20" y1="594.01" x2="237.00" y2="594.01" stroke="#4d1d63" stroke-width="1.1" />
<line x1="233.20" y1="597.99" x2="237.00" y2="597.99" stroke="#4d1d63" stroke-width="1.1" />
<line x1="309.50" y1="585.71" x2="309.50" y2="606.29" stroke="#4d1d63" stroke-width="1.1" />
<line x1="307.60" y1="585.71" x2="311.40" y2="585.71" stroke="#4d1d63" stroke-width="1.1" />
<line x1="307.60" y1="606.29" x2="311.40" y2="606.29" stroke="#4d1d63" stroke-width="1.1" />
<path d="M210.30,596.00 L235.10,596.00 L259.90,596.00 L309.50,596.00" stroke="#4d1d63" stroke-width="1.3" fill="none" stroke-linejoin="round"/>
<path d="M208.30,597.60 L212.30,597.60 L210.30,594.10Z" fill="#4d1d63"/>
<path d="M233.10,597.60 L237.10,597.60 L235.10,594.10Z" fill="#4d1d63"/>
<path d="M257.90,597.60 L261.90,597.60 L259.90,594.10Z" fill="#4d1d63"/>
<path d="M307.50,597.60 L311.50,597.60 L309.50,594.10Z" fill="#4d1d63"/>
<line x1="210.30" y1="588.70" x2="210.30" y2="603.30" stroke="#ab0a2e" stroke-width="1.1" />
<line x1="208.40" y1="588.70" x2="212.20" y2="588.70" stroke="#ab0a2e" stroke-width="1.1" />
<line x1="208.40" y1="603.30" x2="212.20" y2="603.30" stroke="#ab0a2e" stroke-width="1.1" />
<line x1="235.10" y1="597.00" x2="235.10" y2="600.98" stroke="#ab0a2e" stroke-width="1.1" />
<line x1="233.20" y1="597.00" x2="237.00" y2="597.00" stroke="#ab0a2e" stroke-width="1.1" />
<line x1="233.20" y1="600.98" x2="237.00" y2="600.98" stroke="#ab0a2e" stroke-width="1.1" />
<line x1="259.90" y1="601.31" x2="259.90" y2="607.95" stroke="#ab0a2e" stroke-width="1.1" />
<line x1="258.00" y1="601.31" x2="261.80" y2="601.31" stroke="#ab0a2e" stroke-width="1.1" />
<line x1="258.00" y1="607.95" x2="261.80" y2="607.95" stroke="#ab0a2e" stroke-width="1.1" />
<line x1="309.50" y1="603.97" x2="309.50" y2="614.59" stroke="#ab0a2e" stroke-width="1.1" />
<line x1="307.60" y1="603.97" x2="311.40" y2="603.97" stroke="#ab0a2e" stroke-width="1.1" />
<line x1="307.60" y1="614.59" x2="311.40" y2="614.59" stroke="#ab0a2e" stroke-width="1.1" />
<path d="M210.30,596.00 L235.10,598.99 L259.90,604.63 L309.50,609.28" stroke="#ab0a2e" stroke-width="1.5" fill="none" stroke-linejoin="round"/>
<rect x="208.50" y="594.20" width="3.60" height="3.60" fill="#ab0a2e"/>
<rect x="233.30" y="597.19" width="3.60" height="3.60" fill="#ab0a2e"/>
<rect x="258.10" y="602.83" width="3.60" height="3.60" fill="#ab0a2e"/>
<rect x="307.70" y="607.48" width="3.60" height="3.60" fill="#ab0a2e"/>
<line x1="210.30" y1="594.01" x2="210.30" y2="597.99" stroke="#22427e" stroke-width="1.1" />
<line x1="208.40" y1="594.01" x2="212.20" y2="594.01" stroke="#22427e" stroke-width="1.1" />
<line x1="208.40" y1="597.99" x2="212.20" y2="597.99" stroke="#22427e" stroke-width="1.1" />
<line x1="235.10" y1="604.63" x2="235.10" y2="608.62" stroke="#22427e" stroke-width="1.1" />
<line x1="233.20" y1="604.63" x2="237.00" y2="604.63" stroke="#22427e" stroke-width="1.1" />
<line x1="233.20" y1="608.62" x2="237.00" y2="608.62" stroke="#22427e" stroke-width="1.1" />
<line x1="309.50" y1="613.60" x2="309.50" y2="625.55" stroke="#22427e" stroke-width="1.1" />
<line x1="307.60" y1="613.60" x2="311.40" y2="613.60" stroke="#22427e" stroke-width="1.1" />
<line x1="307.60" y1="625.55" x2="311.40" y2="625.55" stroke="#22427e" stroke-width="1.1" />
<path d="M210.30,596.00 L235.10,606.62 L259.90,611.94 L309.50,619.57" stroke="#22427e" stroke-width="1.5" fill="none" stroke-linejoin="round"/>
<circle cx="210.30" cy="596.00" r="1.8" fill="#22427e"/>
<circle cx="235.10" cy="606.62" r="1.8" fill="#22427e"/>
<circle cx="259.90" cy="611.94" r="1.8" fill="#22427e"/>
<circle cx="309.50" cy="619.57" r="1.8" fill="#22427e"/>
<circle cx="230.50" cy="590.00" r="1.2" fill="#ab0a2e"/>
<circle cx="233.50" cy="590.00" r="1.2" fill="#ab0a2e"/>
<circle cx="236.50" cy="590.00" r="1.2" fill="#ab0a2e"/>
<circle cx="239.50" cy="590.00" r="1.2" fill="#ab0a2e"/>
<circle cx="266.28" cy="601.90" r="1.2" fill="#ab0a2e"/>
<circle cx="269.62" cy="601.90" r="1.2" fill="#ab0a2e"/>
<circle cx="272.98" cy="601.90" r="1.2" fill="#ab0a2e"/>
<circle cx="276.32" cy="601.90" r="1.2" fill="#ab0a2e"/>
<circle cx="316.15" cy="608.80" r="1.2" fill="#ab0a2e"/>
<circle cx="319.05" cy="608.80" r="1.2" fill="#ab0a2e"/>
<circle cx="256.93" cy="618.00" r="1.2" fill="#22427e"/>
<circle cx="260.00" cy="618.00" r="1.2" fill="#22427e"/>
<circle cx="263.07" cy="618.00" r="1.2" fill="#22427e"/>
<circle cx="308.20" cy="633.50" r="1.2" fill="#22427e"/>
<circle cx="311.00" cy="633.50" r="1.2" fill="#22427e"/>
<line x1="406.90" y1="594.90" x2="421.10" y2="594.90" stroke="#4d1d63" stroke-width="1.5" />
<path d="M411.00,598.20 L417.00,598.20 L414.00,592.50Z" fill="#4d1d63"/>
<line x1="406.90" y1="611.40" x2="421.10" y2="611.40" stroke="#22427e" stroke-width="1.5" />
<circle cx="414.00" cy="611.40" r="3.3" fill="#22427e"/>
<line x1="406.90" y1="627.40" x2="421.10" y2="627.40" stroke="#ab0a2e" stroke-width="1.5" />
<rect x="410.95" y="624.20" width="6.10" height="6.40" fill="#ab0a2e"/>
<rect x="0.6" y="0.6" width="518.8" height="696.8" fill="none" stroke="#000" stroke-width="1.3"/>
</g><g id="texts">
<text transform="rotate(0.05,6.84,16.77)" x="6.84" y="16.77" font-size="12.31" fill="#000" stroke="#000" stroke-width="0.15" font-weight="bold" textLength="9.61" lengthAdjust="spacingAndGlyphs">A</text>
<text transform="rotate(0.05,282.19,16.63)" x="282.19" y="16.63" font-size="12.28" fill="#000" stroke="#000" stroke-width="0.15" font-weight="bold" textLength="7.39" lengthAdjust="spacingAndGlyphs">B</text>
<text transform="rotate(0.05,11.70,216.61)" x="11.70" y="216.61" font-size="11.04" fill="#000" stroke="#000" stroke-width="0.15" font-weight="bold" textLength="8.09" lengthAdjust="spacingAndGlyphs">C</text>
<text transform="rotate(0.05,220.36,216.62)" x="220.36" y="216.62" font-size="9.93" fill="#000" stroke="#000" stroke-width="0.15" font-weight="bold" textLength="8.10" lengthAdjust="spacingAndGlyphs">D</text>
<text transform="rotate(0.05,11.89,399.38)" x="11.89" y="399.38" font-size="10.10" fill="#000" stroke="#000" stroke-width="0.15" font-weight="bold" textLength="7.30" lengthAdjust="spacingAndGlyphs">E</text>
<text transform="rotate(0.05,90.29,19.00)" x="90.29" y="19.00" font-size="8.24" fill="#231f20" stroke="#231f20" stroke-width="0.15" font-weight="normal" textLength="83.60" lengthAdjust="spacingAndGlyphs">Test Set - ALDH3A2</text>
<text transform="rotate(0.05,30.04,63.06)" x="30.04" y="63.06" font-size="7.30" fill="#231f20" stroke="#231f20" stroke-width="0.2" font-weight="normal" textLength="9.76" lengthAdjust="spacingAndGlyphs">10</text>
<text transform="rotate(0.05,34.76,113.87)" x="34.76" y="113.87" font-size="7.75" fill="#231f20" stroke="#231f20" stroke-width="0.2" font-weight="normal" textLength="5.09" lengthAdjust="spacingAndGlyphs">5</text>
<text transform="rotate(0.05,35.04,163.86)" x="35.04" y="163.86" font-size="7.60" fill="#231f20" stroke="#231f20" stroke-width="0.2" font-weight="normal" textLength="4.84" lengthAdjust="spacingAndGlyphs">0</text>
<text transform="rotate(0.05,74.35,174.10)" x="74.35" y="174.10" font-size="7.71" fill="#231f20" stroke="#231f20" stroke-width="0.2" font-weight="normal" textLength="4.75" lengthAdjust="spacingAndGlyphs">7</text>
<text transform="rotate(0.05,113.60,173.70)" x="113.60" y="173.70" font-size="7.13" fill="#231f20" stroke="#231f20" stroke-width="0.2" font-weight="normal" textLength="5.37" lengthAdjust="spacingAndGlyphs">8</text>
<text transform="rotate(0.05,153.30,173.74)" x="153.30" y="173.74" font-size="7.07" fill="#231f20" stroke="#231f20" stroke-width="0.2" font-weight="normal" textLength="4.59" lengthAdjust="spacingAndGlyphs">9</text>
<text transform="rotate(0.05,191.20,173.58)" x="191.20" y="173.58" font-size="6.91" fill="#231f20" stroke="#231f20" stroke-width="0.2" font-weight="normal" textLength="8.90" lengthAdjust="spacingAndGlyphs">10</text>
<text transform="rotate(0.05,114.25,186.55)" x="114.25" y="186.55" font-size="9.07" fill="#231f20" stroke="#231f20" stroke-width="0.3" font-weight="normal" textLength="35.41" lengthAdjust="spacingAndGlyphs">Expression</text>
<text transform="translate(25.10,124.91) rotate(-89.95)" font-size="9.51" fill="#231f20" stroke="#231f20" stroke-width="0.3" font-weight="normal" textLength="63.54" lengthAdjust="spacingAndGlyphs">Number of patients</text>
<text transform="rotate(0.05,221.83,84.78)" x="221.83" y="84.78" font-size="6.93" fill="#231f20" stroke="#231f20" stroke-width="0.15" font-weight="normal" textLength="15.89" lengthAdjust="spacingAndGlyphs">STAT</text>
<text transform="rotate(0.05,233.34,96.25)" x="233.34" y="96.25" font-size="6.99" fill="#231f20" stroke="#231f20" stroke-width="0.15" font-weight="normal" textLength="21.49" lengthAdjust="spacingAndGlyphs">MEAN</text>
<text transform="rotate(0.05,233.15,104.41)" x="233.15" y="104.41" font-size="7.08" fill="#231f20" stroke="#231f20" stroke-width="0.15" font-weight="normal" textLength="29.33" lengthAdjust="spacingAndGlyphs">MEDIAN</text>
<text transform="rotate(0.05,305.80,75.87)" x="305.80" y="75.87" font-size="7.26" fill="#231f20" stroke="#231f20" stroke-width="0.2" font-weight="normal" textLength="14.87" lengthAdjust="spacingAndGlyphs">100</text>
<text transform="rotate(0.05,310.82,93.61)" x="310.82" y="93.61" font-size="6.99" fill="#231f20" stroke="#231f20" stroke-width="0.2" font-weight="normal" textLength="9.70" lengthAdjust="spacingAndGlyphs">80</text>
<text transform="rotate(0.05,311.00,111.75)" x="311.00" y="111.75" font-size="7.54" fill="#231f20" stroke="#231f20" stroke-width="0.2" font-weight="normal" textLength="9.40" lengthAdjust="spacingAndGlyphs">60</text>
<text transform="rotate(0.05,310.84,129.15)" x="310.84" y="129.15" font-size="6.78" fill="#231f20" stroke="#231f20" stroke-width="0.2" font-weight="normal" textLength="9.84" lengthAdjust="spacingAndGlyphs">40</text>
<text transform="rotate(0.05,310.68,147.56)" x="310.68" y="147.56" font-size="6.86" fill="#231f20" stroke="#231f20" stroke-width="0.2" font-weight="normal" textLength="9.76" lengthAdjust="spacingAndGlyphs">20</text>
<text transform="rotate(0.05,315.22,165.26)" x="315.22" y="165.26" font-size="7.30" fill="#231f20" stroke="#231f20" stroke-width="0.2" font-weight="normal" textLength="5.36" lengthAdjust="spacingAndGlyphs">0</text>
<text transform="rotate(0.05,322.99,176.03)" x="322.99" y="176.03" font-size="7.78" fill="#231f20" stroke="#231f20" stroke-width="0.2" font-weight="normal" textLength="4.70" lengthAdjust="spacingAndGlyphs">0</text>
<text transform="rotate(0.05,348.72,175.65)" x="348.72" y="175.65" font-size="7.05" fill="#231f20" stroke="#231f20" stroke-width="0.2" font-weight="normal" textLength="13.81" lengthAdjust="spacingAndGlyphs">500</text>
<text transform="rotate(0.05,376.04,175.66)" x="376.04" y="175.66" font-size="7.12" fill="#231f20" stroke="#231f20" stroke-width="0.2" font-weight="normal" textLength="18.15" lengthAdjust="spacingAndGlyphs">1000</text>
<text transform="rotate(0.05,406.33,175.77)" x="406.33" y="175.77" font-size="7.30" fill="#231f20" stroke="#231f20" stroke-width="0.2" font-weight="normal" textLength="17.48" lengthAdjust="spacingAndGlyphs">1500</text>
<text transform="rotate(0.05,435.60,176.02)" x="435.60" y="176.02" font-size="7.79" fill="#231f20" stroke="#231f20" stroke-width="0.2" font-weight="normal" textLength="17.85" lengthAdjust="spacingAndGlyphs">2000</text>
<text transform="rotate(0.05,348.13,188.70)" x="348.13" y="188.70" font-size="8.79" fill="#231f20" stroke="#231f20" stroke-width="0.3" font-weight="normal" textLength="76.89" lengthAdjust="spacingAndGlyphs">Overall survival in days</text>
<text transform="translate(300.80,143.02) rotate(-89.95)" font-size="8.97" fill="#231f20" stroke="#231f20" stroke-width="0.3" font-weight="normal" textLength="52.83" lengthAdjust="spacingAndGlyphs">Percent survival</text>
<text transform="rotate(0.05,462.58,76.58)" x="462.58" y="76.58" font-size="6.95" fill="#231f20" stroke="#231f20" stroke-width="0.15" font-weight="normal" textLength="47.39" lengthAdjust="spacingAndGlyphs">ALDH3A2 low</text>
<text transform="rotate(0.05,462.42,87.60)" x="462.42" y="87.60" font-size="7.01" fill="#231f20" stroke="#231f20" stroke-width="0.15" font-weight="normal" textLength="50.40" lengthAdjust="spacingAndGlyphs">ALDH3A2 high</text>
<text transform="rotate(0.05,436.30,138.30)" x="436.30" y="138.30" font-size="6.98" fill="#231f20" stroke="#231f20" stroke-width="0.15" font-weight="normal" textLength="33.02" lengthAdjust="spacingAndGlyphs">p=0.0059</text>
<text transform="rotate(0.05,52.22,358.76)" x="52.22" y="358.76" font-size="8.68" fill="#231f20" stroke="#231f20" stroke-width="0.2" font-weight="normal" textLength="4.90" lengthAdjust="spacingAndGlyphs">0</text>
<text transform="rotate(0.05,88.54,358.59)" x="88.54" y="358.59" font-size="8.06" fill="#231f20" stroke="#231f20" stroke-width="0.2" font-weight="normal" textLength="4.97" lengthAdjust="spacingAndGlyphs">5</text>
<text transform="rotate(0.05,122.49,358.49)" x="122.49" y="358.49" font-size="8.40" fill="#231f20" stroke="#231f20" stroke-width="0.2" font-weight="normal" textLength="9.24" lengthAdjust="spacingAndGlyphs">10</text>
<text transform="rotate(0.05,158.63,358.61)" x="158.63" y="358.61" font-size="8.08" fill="#231f20" stroke="#231f20" stroke-width="0.2" font-weight="normal" textLength="9.48" lengthAdjust="spacingAndGlyphs">15</text>
<text transform="rotate(0.05,195.08,358.75)" x="195.08" y="358.75" font-size="8.32" fill="#231f20" stroke="#231f20" stroke-width="0.2" font-weight="normal" textLength="9.55" lengthAdjust="spacingAndGlyphs">20</text>
<text transform="rotate(0.05,78.55,371.70)" x="78.55" y="371.70" font-size="9.45" fill="#231f20" stroke="#231f20" stroke-width="0.3" font-weight="normal" textLength="100.86" lengthAdjust="spacingAndGlyphs">Relative expression to GAPDH</text>
<text transform="rotate(0.05,26.74,262.89)" x="26.74" y="262.89" font-size="8.16" fill="#231f20" stroke="#231f20" stroke-width="0.15" font-weight="normal" textLength="21.65" lengthAdjust="spacingAndGlyphs">THP-1</text>
<text transform="rotate(0.05,14.59,281.20)" x="14.59" y="281.20" font-size="7.56" fill="#231f20" stroke="#231f20" stroke-width="0.15" font-weight="normal" textLength="34.07" lengthAdjust="spacingAndGlyphs">NOMO-1</text>
<text transform="rotate(0.05,32.46,299.80)" x="32.46" y="299.80" font-size="7.83" fill="#231f20" stroke="#231f20" stroke-width="0.15" font-weight="normal" textLength="15.81" lengthAdjust="spacingAndGlyphs">NB4</text>
<text transform="rotate(0.05,11.70,317.68)" x="11.70" y="317.68" font-size="7.68" fill="#231f20" stroke="#231f20" stroke-width="0.15" font-weight="normal" textLength="36.44" lengthAdjust="spacingAndGlyphs">MOLM-14</text>
<text transform="rotate(0.05,27.13,335.80)" x="27.13" y="335.80" font-size="7.69" fill="#231f20" stroke="#231f20" stroke-width="0.15" font-weight="normal" textLength="21.01" lengthAdjust="spacingAndGlyphs">HL-60</text>
<text transform="rotate(0.05,246.16,347.71)" x="246.16" y="347.71" font-size="6.91" fill="#231f20" stroke="#231f20" stroke-width="0.2" font-weight="normal" textLength="10.59" lengthAdjust="spacingAndGlyphs">0.0</text>
<text transform="rotate(0.05,246.28,307.94)" x="246.28" y="307.94" font-size="6.63" fill="#231f20" stroke="#231f20" stroke-width="0.2" font-weight="normal" textLength="10.52" lengthAdjust="spacingAndGlyphs">0.5</text>
<text transform="rotate(0.05,245.43,268.42)" x="245.43" y="268.42" font-size="6.70" fill="#231f20" stroke="#231f20" stroke-width="0.2" font-weight="normal" textLength="11.41" lengthAdjust="spacingAndGlyphs">1.0</text>
<text transform="rotate(0.05,245.80,229.11)" x="245.80" y="229.11" font-size="6.70" fill="#231f20" stroke="#231f20" stroke-width="0.2" font-weight="normal" textLength="11.12" lengthAdjust="spacingAndGlyphs">1.5</text>
<text transform="rotate(0.05,295.50,358.80)" x="295.50" y="358.80" font-size="9.08" fill="#231f20" stroke="#231f20" stroke-width="0.15" font-weight="normal" textLength="20.70" lengthAdjust="spacingAndGlyphs">THP-1</text>
<text transform="translate(240.00,334.80) rotate(-89.95)" font-size="9.63" fill="#231f20" stroke="#231f20" stroke-width="0.3" font-weight="normal" textLength="103.37" lengthAdjust="spacingAndGlyphs">Relative expression to <tspan font-style="italic">GAPDH</tspan></text>
<text transform="rotate(0.05,374.87,277.43)" x="374.87" y="277.43" font-size="6.98" fill="#231f20" stroke="#231f20" stroke-width="0.15" font-weight="normal" textLength="38.58" lengthAdjust="spacingAndGlyphs">Ctrl-shRNA</text>
<text transform="rotate(0.05,375.02,287.13)" x="375.02" y="287.13" font-size="6.68" fill="#231f20" stroke="#231f20" stroke-width="0.15" font-weight="normal" textLength="51.02" lengthAdjust="spacingAndGlyphs">ALDH3A2-sh-A</text>
<text transform="rotate(0.05,374.95,296.65)" x="374.95" y="296.65" font-size="6.47" fill="#231f20" stroke="#231f20" stroke-width="0.15" font-weight="normal" textLength="50.40" lengthAdjust="spacingAndGlyphs">ALDH3A2-sh-B</text>
<text transform="rotate(0.05,92.52,399.43)" x="92.52" y="399.43" font-size="9.69" fill="#231f20" stroke="#231f20" stroke-width="0.15" font-weight="normal" textLength="26.21" lengthAdjust="spacingAndGlyphs">THP-1</text>
<text transform="rotate(0.05,26.20,510.98)" x="26.20" y="510.98" font-size="7.03" fill="#231f20" stroke="#231f20" stroke-width="0.2" font-weight="normal" textLength="10.58" lengthAdjust="spacingAndGlyphs">0.0</text>
<text transform="rotate(0.05,25.96,478.04)" x="25.96" y="478.04" font-size="6.98" fill="#231f20" stroke="#231f20" stroke-width="0.2" font-weight="normal" textLength="10.79" lengthAdjust="spacingAndGlyphs">0.5</text>
<text transform="rotate(0.05,25.63,444.94)" x="25.63" y="444.94" font-size="6.86" fill="#231f20" stroke="#231f20" stroke-width="0.2" font-weight="normal" textLength="11.10" lengthAdjust="spacingAndGlyphs">1.0</text>
<text transform="rotate(0.05,25.44,411.99)" x="25.44" y="411.99" font-size="7.14" fill="#231f20" stroke="#231f20" stroke-width="0.2" font-weight="normal" textLength="11.26" lengthAdjust="spacingAndGlyphs">1.5</text>
<text transform="rotate(0.05,40.14,521.26)" x="40.14" y="521.26" font-size="7.06" fill="#231f20" stroke="#231f20" stroke-width="0.2" font-weight="normal" textLength="4.75" lengthAdjust="spacingAndGlyphs">0</text>
<text transform="rotate(0.05,65.48,521.50)" x="65.48" y="521.50" font-size="6.97" fill="#231f20" stroke="#231f20" stroke-width="0.2" font-weight="normal" textLength="3.65" lengthAdjust="spacingAndGlyphs">1</text>
<text transform="rotate(0.05,89.68,521.17)" x="89.68" y="521.17" font-size="7.04" fill="#231f20" stroke="#231f20" stroke-width="0.2" font-weight="normal" textLength="5.14" lengthAdjust="spacingAndGlyphs">2</text>
<text transform="rotate(0.05,114.71,521.28)" x="114.71" y="521.28" font-size="7.09" fill="#231f20" stroke="#231f20" stroke-width="0.2" font-weight="normal" textLength="4.91" lengthAdjust="spacingAndGlyphs">3</text>
<text transform="rotate(0.05,139.62,521.59)" x="139.62" y="521.59" font-size="7.80" fill="#231f20" stroke="#231f20" stroke-width="0.2" font-weight="normal" textLength="5.55" lengthAdjust="spacingAndGlyphs">4</text>
<text transform="rotate(0.05,164.60,521.22)" x="164.60" y="521.22" font-size="7.40" fill="#231f20" stroke="#231f20" stroke-width="0.2" font-weight="normal" textLength="4.97" lengthAdjust="spacingAndGlyphs">5</text>
<text transform="rotate(0.05,87.62,534.50)" x="87.62" y="534.50" font-size="8.72" fill="#231f20" stroke="#231f20" stroke-width="0.3" font-weight="normal" textLength="38.06" lengthAdjust="spacingAndGlyphs">Time (days)</text>
<text transform="translate(19.90,490.68) rotate(-89.95)" font-size="9.92" fill="#231f20" stroke="#231f20" stroke-width="0.3" font-weight="normal" textLength="67.06" lengthAdjust="spacingAndGlyphs">Relative cell growth</text>
<text transform="rotate(0.05,252.86,399.18)" x="252.86" y="399.18" font-size="9.46" fill="#231f20" stroke="#231f20" stroke-width="0.15" font-weight="normal" textLength="40.87" lengthAdjust="spacingAndGlyphs">NOMO-1</text>
<text transform="rotate(0.05,193.99,511.33)" x="193.99" y="511.33" font-size="6.93" fill="#231f20" stroke="#231f20" stroke-width="0.2" font-weight="normal" textLength="10.50" lengthAdjust="spacingAndGlyphs">0.0</text>
<text transform="rotate(0.05,193.83,477.90)" x="193.83" y="477.90" font-size="7.04" fill="#231f20" stroke="#231f20" stroke-width="0.2" font-weight="normal" textLength="10.57" lengthAdjust="spacingAndGlyphs">0.5</text>
<text transform="rotate(0.05,193.30,444.85)" x="193.30" y="444.85" font-size="6.91" fill="#231f20" stroke="#231f20" stroke-width="0.2" font-weight="normal" textLength="11.13" lengthAdjust="spacingAndGlyphs">1.0</text>
<text transform="rotate(0.05,193.52,411.68)" x="193.52" y="411.68" font-size="6.89" fill="#231f20" stroke="#231f20" stroke-width="0.2" font-weight="normal" textLength="11.21" lengthAdjust="spacingAndGlyphs">1.5</text>
<text transform="rotate(0.05,207.69,521.08)" x="207.69" y="521.08" font-size="6.96" fill="#231f20" stroke="#231f20" stroke-width="0.2" font-weight="normal" textLength="5.01" lengthAdjust="spacingAndGlyphs">0</text>
<text transform="rotate(0.05,233.25,521.16)" x="233.25" y="521.16" font-size="7.25" fill="#231f20" stroke="#231f20" stroke-width="0.2" font-weight="normal" textLength="3.67" lengthAdjust="spacingAndGlyphs">1</text>
<text transform="rotate(0.05,257.27,521.15)" x="257.27" y="521.15" font-size="7.25" fill="#231f20" stroke="#231f20" stroke-width="0.2" font-weight="normal" textLength="5.12" lengthAdjust="spacingAndGlyphs">2</text>
<text transform="rotate(0.05,282.36,521.15)" x="282.36" y="521.15" font-size="6.84" fill="#231f20" stroke="#231f20" stroke-width="0.2" font-weight="normal" textLength="4.67" lengthAdjust="spacingAndGlyphs">3</text>
<text transform="rotate(0.05,307.11,521.14)" x="307.11" y="521.14" font-size="7.37" fill="#231f20" stroke="#231f20" stroke-width="0.2" font-weight="normal" textLength="5.26" lengthAdjust="spacingAndGlyphs">4</text>
<text transform="rotate(0.05,331.97,520.92)" x="331.97" y="520.92" font-size="7.08" fill="#231f20" stroke="#231f20" stroke-width="0.2" font-weight="normal" textLength="4.62" lengthAdjust="spacingAndGlyphs">5</text>
<text transform="rotate(0.05,254.96,534.40)" x="254.96" y="534.40" font-size="9.14" fill="#231f20" stroke="#231f20" stroke-width="0.3" font-weight="normal" textLength="38.23" lengthAdjust="spacingAndGlyphs">Time (days)</text>
<text transform="translate(187.35,490.28) rotate(-89.95)" font-size="9.85" fill="#231f20" stroke="#231f20" stroke-width="0.3" font-weight="normal" textLength="67.02" lengthAdjust="spacingAndGlyphs">Relative cell growth</text>
<text transform="rotate(0.05,431.36,399.46)" x="431.36" y="399.46" font-size="9.81" fill="#231f20" stroke="#231f20" stroke-width="0.15" font-weight="normal" textLength="19.46" lengthAdjust="spacingAndGlyphs">NB4</text>
<text transform="rotate(0.05,361.19,511.16)" x="361.19" y="511.16" font-size="7.00" fill="#231f20" stroke="#231f20" stroke-width="0.2" font-weight="normal" textLength="10.59" lengthAdjust="spacingAndGlyphs">0.0</text>
<text transform="rotate(0.05,361.20,477.90)" x="361.20" y="477.90" font-size="7.54" fill="#231f20" stroke="#231f20" stroke-width="0.2" font-weight="normal" textLength="10.50" lengthAdjust="spacingAndGlyphs">0.5</text>
<text transform="rotate(0.05,360.51,444.01)" x="360.51" y="444.01" font-size="7.03" fill="#231f20" stroke="#231f20" stroke-width="0.2" font-weight="normal" textLength="11.26" lengthAdjust="spacingAndGlyphs">1.0</text>
<text transform="rotate(0.05,360.58,410.76)" x="360.58" y="410.76" font-size="7.59" fill="#231f20" stroke="#231f20" stroke-width="0.2" font-weight="normal" textLength="11.35" lengthAdjust="spacingAndGlyphs">1.5</text>
<text transform="rotate(0.05,375.32,521.26)" x="375.32" y="521.26" font-size="6.75" fill="#231f20" stroke="#231f20" stroke-width="0.2" font-weight="normal" textLength="4.69" lengthAdjust="spacingAndGlyphs">0</text>
<text transform="rotate(0.05,406.09,521.25)" x="406.09" y="521.25" font-size="7.52" fill="#231f20" stroke="#231f20" stroke-width="0.2" font-weight="normal" textLength="4.84" lengthAdjust="spacingAndGlyphs">2</text>
<text transform="rotate(0.05,436.92,521.35)" x="436.92" y="521.35" font-size="7.57" fill="#231f20" stroke="#231f20" stroke-width="0.2" font-weight="normal" textLength="5.09" lengthAdjust="spacingAndGlyphs">4</text>
<text transform="rotate(0.05,467.91,521.08)" x="467.91" y="521.08" font-size="6.99" fill="#231f20" stroke="#231f20" stroke-width="0.2" font-weight="normal" textLength="4.69" lengthAdjust="spacingAndGlyphs">6</text>
<text transform="rotate(0.05,498.66,521.37)" x="498.66" y="521.37" font-size="6.83" fill="#231f20" stroke="#231f20" stroke-width="0.2" font-weight="normal" textLength="4.89" lengthAdjust="spacingAndGlyphs">8</text>
<text transform="rotate(0.05,422.39,534.50)" x="422.39" y="534.50" font-size="8.78" fill="#231f20" stroke="#231f20" stroke-width="0.3" font-weight="normal" textLength="38.21" lengthAdjust="spacingAndGlyphs">Time (days)</text>
<text transform="translate(354.95,489.82) rotate(-89.95)" font-size="9.79" fill="#231f20" stroke="#231f20" stroke-width="0.3" font-weight="normal" textLength="67.19" lengthAdjust="spacingAndGlyphs">Relative cell growth</text>
<text transform="rotate(0.05,84.08,554.45)" x="84.08" y="554.45" font-size="9.53" fill="#231f20" stroke="#231f20" stroke-width="0.15" font-weight="normal" textLength="44.09" lengthAdjust="spacingAndGlyphs">MOLM-14</text>
<text transform="rotate(0.05,26.38,665.02)" x="26.38" y="665.02" font-size="7.52" fill="#231f20" stroke="#231f20" stroke-width="0.2" font-weight="normal" textLength="10.59" lengthAdjust="spacingAndGlyphs">0.0</text>
<text transform="rotate(0.05,26.46,631.54)" x="26.46" y="631.54" font-size="7.08" fill="#231f20" stroke="#231f20" stroke-width="0.2" font-weight="normal" textLength="10.38" lengthAdjust="spacingAndGlyphs">0.5</text>
<text transform="rotate(0.05,25.40,598.56)" x="25.40" y="598.56" font-size="7.34" fill="#231f20" stroke="#231f20" stroke-width="0.2" font-weight="normal" textLength="11.65" lengthAdjust="spacingAndGlyphs">1.0</text>
<text transform="rotate(0.05,25.65,565.33)" x="25.65" y="565.33" font-size="7.26" fill="#231f20" stroke="#231f20" stroke-width="0.2" font-weight="normal" textLength="11.36" lengthAdjust="spacingAndGlyphs">1.5</text>
<text transform="rotate(0.05,40.41,674.77)" x="40.41" y="674.77" font-size="7.13" fill="#231f20" stroke="#231f20" stroke-width="0.2" font-weight="normal" textLength="4.80" lengthAdjust="spacingAndGlyphs">0</text>
<text transform="rotate(0.05,65.55,675.15)" x="65.55" y="675.15" font-size="7.89" fill="#231f20" stroke="#231f20" stroke-width="0.2" font-weight="normal" textLength="3.91" lengthAdjust="spacingAndGlyphs">1</text>
<text transform="rotate(0.05,89.92,675.26)" x="89.92" y="675.26" font-size="7.05" fill="#231f20" stroke="#231f20" stroke-width="0.2" font-weight="normal" textLength="4.92" lengthAdjust="spacingAndGlyphs">2</text>
<text transform="rotate(0.05,114.88,674.94)" x="114.88" y="674.94" font-size="7.38" fill="#231f20" stroke="#231f20" stroke-width="0.2" font-weight="normal" textLength="4.89" lengthAdjust="spacingAndGlyphs">3</text>
<text transform="rotate(0.05,139.56,675.27)" x="139.56" y="675.27" font-size="7.72" fill="#231f20" stroke="#231f20" stroke-width="0.2" font-weight="normal" textLength="5.04" lengthAdjust="spacingAndGlyphs">4</text>
<text transform="rotate(0.05,164.43,674.82)" x="164.43" y="674.82" font-size="7.02" fill="#231f20" stroke="#231f20" stroke-width="0.2" font-weight="normal" textLength="4.82" lengthAdjust="spacingAndGlyphs">5</text>
<text transform="rotate(0.05,87.79,688.20)" x="87.79" y="688.20" font-size="8.88" fill="#231f20" stroke="#231f20" stroke-width="0.3" font-weight="normal" textLength="38.02" lengthAdjust="spacingAndGlyphs">Time (days)</text>
<text transform="translate(19.75,644.28) rotate(-89.95)" font-size="9.37" fill="#231f20" stroke="#231f20" stroke-width="0.3" font-weight="normal" textLength="67.10" lengthAdjust="spacingAndGlyphs">Relative cell growth</text>
<text transform="rotate(0.05,260.38,554.85)" x="260.38" y="554.85" font-size="9.53" fill="#231f20" stroke="#231f20" stroke-width="0.15" font-weight="normal" textLength="26.72" lengthAdjust="spacingAndGlyphs">HL-60</text>
<text transform="rotate(0.05,193.90,665.10)" x="193.90" y="665.10" font-size="7.54" fill="#231f20" stroke="#231f20" stroke-width="0.2" font-weight="normal" textLength="10.50" lengthAdjust="spacingAndGlyphs">0.0</text>
<text transform="rotate(0.05,193.90,631.90)" x="193.90" y="631.90" font-size="7.54" fill="#231f20" stroke="#231f20" stroke-width="0.2" font-weight="normal" textLength="10.50" lengthAdjust="spacingAndGlyphs">0.5</text>
<text transform="rotate(0.05,193.31,598.17)" x="193.31" y="598.17" font-size="6.79" fill="#231f20" stroke="#231f20" stroke-width="0.2" font-weight="normal" textLength="11.15" lengthAdjust="spacingAndGlyphs">1.0</text>
<text transform="rotate(0.05,193.37,565.19)" x="193.37" y="565.19" font-size="7.14" fill="#231f20" stroke="#231f20" stroke-width="0.2" font-weight="normal" textLength="11.09" lengthAdjust="spacingAndGlyphs">1.5</text>
<text transform="rotate(0.05,207.77,675.09)" x="207.77" y="675.09" font-size="7.46" fill="#231f20" stroke="#231f20" stroke-width="0.2" font-weight="normal" textLength="5.15" lengthAdjust="spacingAndGlyphs">0</text>
<text transform="rotate(0.05,233.32,675.07)" x="233.32" y="675.07" font-size="7.80" fill="#231f20" stroke="#231f20" stroke-width="0.2" font-weight="normal" textLength="3.26" lengthAdjust="spacingAndGlyphs">1</text>
<text transform="rotate(0.05,257.27,675.14)" x="257.27" y="675.14" font-size="7.71" fill="#231f20" stroke="#231f20" stroke-width="0.2" font-weight="normal" textLength="5.31" lengthAdjust="spacingAndGlyphs">2</text>
<text transform="rotate(0.05,282.25,674.74)" x="282.25" y="674.74" font-size="6.91" fill="#231f20" stroke="#231f20" stroke-width="0.2" font-weight="normal" textLength="4.85" lengthAdjust="spacingAndGlyphs">3</text>
<text transform="rotate(0.05,307.00,675.00)" x="307.00" y="675.00" font-size="7.70" fill="#231f20" stroke="#231f20" stroke-width="0.2" font-weight="normal" textLength="5.24" lengthAdjust="spacingAndGlyphs">4</text>
<text transform="rotate(0.05,331.73,675.00)" x="331.73" y="675.00" font-size="7.64" fill="#231f20" stroke="#231f20" stroke-width="0.2" font-weight="normal" textLength="4.94" lengthAdjust="spacingAndGlyphs">5</text>
<text transform="rotate(0.05,257.08,688.20)" x="257.08" y="688.20" font-size="8.94" fill="#231f20" stroke="#231f20" stroke-width="0.3" font-weight="normal" textLength="37.99" lengthAdjust="spacingAndGlyphs">Time (days)</text>
<text transform="translate(186.90,644.30) rotate(-89.95)" font-size="9.48" fill="#231f20" stroke="#231f20" stroke-width="0.3" font-weight="normal" textLength="67.01" lengthAdjust="spacingAndGlyphs">Relative cell growth</text>
<text transform="rotate(0.05,423.47,597.15)" x="423.47" y="597.15" font-size="6.60" fill="#231f20" stroke="#231f20" stroke-width="0.15" font-weight="normal" textLength="51.30" lengthAdjust="spacingAndGlyphs">Control shRNA</text>
<text transform="rotate(0.05,423.75,613.69)" x="423.75" y="613.69" font-size="6.57" fill="#231f20" stroke="#231f20" stroke-width="0.15" font-weight="normal" textLength="51.86" lengthAdjust="spacingAndGlyphs">ALDH3A2-sh-A</text>
<text transform="rotate(0.05,423.82,629.79)" x="423.82" y="629.79" font-size="6.38" fill="#231f20" stroke="#231f20" stroke-width="0.15" font-weight="normal" textLength="51.20" lengthAdjust="spacingAndGlyphs">ALDH3A2-sh-B</text>
</g></svg></body></html>
